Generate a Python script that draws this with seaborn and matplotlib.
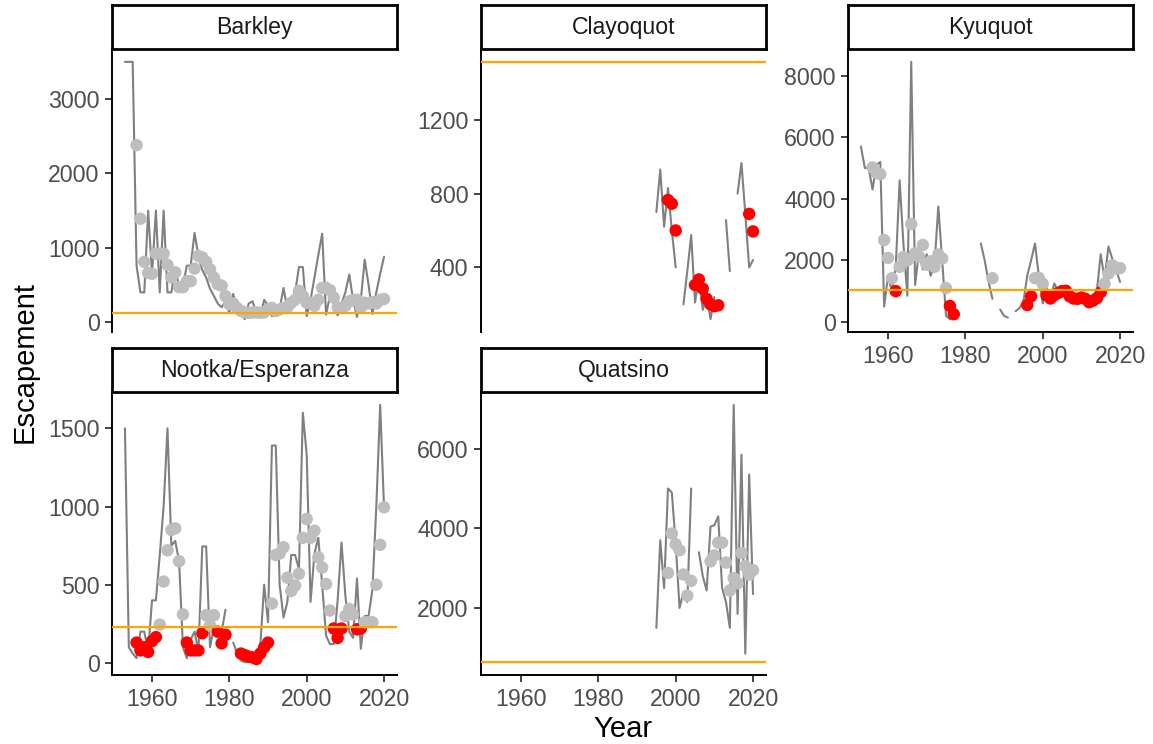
import numpy as np
import pandas as pd
import matplotlib
matplotlib.use("Agg")
import matplotlib.pyplot as plt
import seaborn as sns

# escapement series per area (gaps = missing years)
barkley_years = list(range(1953, 2021))
barkley_esc = [3500, 3500, 3500, 760, 400, 400, 1500, 650, 1500, 400,
               1500, 400, 400, 730, 480, 490, 760, 760, 1200, 890,
               700, 600, 450, 350, 250, 200, 280, 120, 380, 150,
               120, 40, 250, 280, 100, 80, 300, 220, 80, 100,
               180, 460, 170, 300, 400, 740, 740, 80, 300, 600,
               900, 1190, 100, 350, 250, 90, 250, 400, 640, 300,
               70, 300, 840, 500, 110, 400, 650, 880]
barkley_pt_years = list(range(1956, 2021))
barkley_pt = [2380, 1390, 810, 660, 650, 920, 920, 920, 770, 600,
              670, 470, 470, 550, 550, 720, 890, 870, 810, 710,
              600, 510, 490, 350, 240, 250, 190, 150, 130, 125,
              130, 130, 125, 130, 170, 190, 150, 170, 190, 200,
              260, 300, 420, 350, 260, 260, 220, 300, 460, 460,
              430, 330, 200, 190, 220, 280, 300, 300, 200, 260,
              250, 270, 250, 300, 310]

clayoquot_years = list(range(1995, 2021))
clayoquot_esc = [700, 930, 620, 830, 600, 400, np.nan, 200, 380, 575,
                 210, 350, 170, 250, 120, 240, np.nan, np.nan, 657, 380,
                 np.nan, 800, 965, 690, 400, 440]
clayoquot_pt_years = [1998, 1999, 2000, 2005, 2006, 2007, 2008, 2009, 2010, 2011, 2019, 2020]
clayoquot_pt = [765, 745, 600, 305, 335, 285, 230, 200, 190, 195, 690, 595]

kyuquot_years = list(range(1953, 2021))
kyuquot_esc = [5700, 5000, 5000, 4300, 5100, 5200, 500, 1500, 1000, 1800,
               4600, 2500, 850, 8450, 1200, 2300, 1700, 2200, 1500, 1800,
               3750, 2000, 200, 90, np.nan, np.nan, np.nan, np.nan, np.nan, np.nan,
               np.nan, 2550, 2000, 1300, 750, np.nan, 400, 200, 140, np.nan,
               350, 450, 650, 1500, 2000, 2550, 1500, 600, 1100, 800,
               1250, 1000, 900, 1100, 900, 800, 850, 700, 900, 700,
               800, 1000, 2200, 1400, 2450, 2050, 1700, 1300]
kyuquot_pt_years = (list(range(1956, 1978)) + [1987] + list(range(1996, 2021)))
kyuquot_pt = [5020, 4850, 4800, 2660, 2080, 1420, 1000, 1790, 2110, 2000,
              3180, 2230, 2120, 2500, 1860, 1970, 1790, 2190, 2060, 1100,
              520, 250,
              1420,
              550, 830, 1420, 1430, 1240, 860, 760, 870, 940, 1000,
              1010, 830, 760, 750, 790, 750, 640, 690, 770, 960,
              1240, 1570, 1840, 1730, 1750]

nootka_years = list(range(1953, 2021))
nootka_esc = [1500, 100, 60, 30, 200, 200, 75, 400, 400, 690,
              1000, 1500, 750, 780, 650, 100, 30, 150, 200, 75,
              745, 745, 100, 230, 200, 200, 340, np.nan, 130, 60,
              15, 5, 10, 20, 30, 110, 500, 260, 1390, 1390,
              500, 290, 390, 690, 690, 600, 1600, 1330, 390, 700,
              800, 500, 175, 120, 120, 400, 770, 430, 200, 160,
              540, 90, 300, 300, 470, 1000, 1650, 990]
nootka_pt_years = list(range(1956, 1980)) + list(range(1983, 2021))
nootka_pt = [130, 80, 100, 70, 140, 165, 245, 520, 720, 850,
             860, 650, 310, 130, 80, 80, 80, 190, 305, 240,
             305, 200, 125, 180,
             60, 50, 40, 35, 25, 60, 100, 130, 380, 690,
             700, 740, 545, 460, 495, 570, 800, 920, 800, 845,
             675, 610, 505, 335, 220, 160, 220, 300, 345, 310,
             215, 220, 260, 260, 260, 500, 755, 995]

quatsino_years = list(range(1995, 2021))
quatsino_esc = [1500, 3700, 2500, 5000, 4900, 3600, 2000, 2400, 2150, 5000,
                np.nan, 3400, 2800, 2440, 4040, 4080, 4300, 2500, 2150, 1500,
                7100, 1850, 5850, 850, 5350, 2350]
quatsino_pt_years = list(range(1998, 2005)) + list(range(2009, 2021))
quatsino_pt = [2880, 3870, 3600, 3450, 2840, 2310, 2680,
               3170, 3320, 3640, 3640, 3140, 2440, 2750, 2620, 3380, 3050, 2840, 2950]

areas = ["Barkley", "Clayoquot", "Kyuquot", "Nootka/Esperanza", "Quatsino"]
benchmarks = [120, 1513, 1035, 230, 640]
y_ticks = [[0, 1000, 2000, 3000], [400, 800, 1200], [0, 2000, 4000, 6000, 8000],
           [0, 500, 1000, 1500], [2000, 4000, 6000]]
x_ticks = [1960, 1980, 2000, 2020]

series = [
    (barkley_years, barkley_esc, barkley_pt_years, barkley_pt),
    (clayoquot_years, clayoquot_esc, clayoquot_pt_years, clayoquot_pt),
    (kyuquot_years, kyuquot_esc, kyuquot_pt_years, kyuquot_pt),
    (nootka_years, nootka_esc, nootka_pt_years, nootka_pt),
    (quatsino_years, quatsino_esc, quatsino_pt_years, quatsino_pt),
]

sns.set_style("white")
plt.rcParams['font.family'] = ['Liberation Sans', 'DejaVu Sans']

W, H = 1153, 744
fig = plt.figure(figsize=(W / 100, H / 100), dpi=100)

# facet layout in pixels (left, top) for each panel
col_left = [112, 481, 848]
row_top = [49, 392]
panel_w, panel_h, strip_h = 285, 283, 44
slots = [(0, 0), (0, 1), (0, 2), (1, 0), (1, 1)]
show_x = [False, False, True, True, True]

x_lo, x_hi = 1953 - 0.05 * 67, 2020 + 0.05 * 67

for i, area in enumerate(areas):
    r, c = slots[i]
    left = col_left[c] / W
    bottom = 1 - (row_top[r] + panel_h) / H
    ax = fig.add_axes([left, bottom, panel_w / W, panel_h / H])

    yrs, esc, pyrs, pts = series[i]
    line_df = pd.DataFrame({"Year": yrs, "Escapement": esc})
    line_df["seg"] = line_df["Escapement"].isna().cumsum()
    line_df = line_df.dropna()
    sns.lineplot(data=line_df, x="Year", y="Escapement", units="seg", estimator=None,
                 color="#808080", lw=1.5, ax=ax)

    pt_df = pd.DataFrame({"Year": pyrs, "Escapement": pts})
    pt_df["below"] = pt_df["Escapement"] < benchmarks[i]
    sns.scatterplot(data=pt_df, x="Year", y="Escapement", hue="below",
                    palette={True: "red", False: "#BEBEBE"}, s=80, linewidth=0,
                    legend=False, ax=ax, zorder=3)
    ax.axhline(benchmarks[i], color="orange", lw=1.6, zorder=4)

    allv = np.concatenate([line_df["Escapement"].values, pt_df["Escapement"].values,
                           [benchmarks[i]]])
    lo, hi = allv.min(), allv.max()
    pad = 0.05 * (hi - lo)
    ax.set_ylim(lo - pad, hi + pad)
    ax.set_xlim(x_lo, x_hi)
    ax.set_yticks(y_ticks[i])
    ax.set_xticks(x_ticks)
    ax.set_xlabel("")
    ax.set_ylabel("")

    for s in ["top", "right"]:
        ax.spines[s].set_visible(False)
    for s in ["left", "bottom"]:
        ax.spines[s].set_color("black")
        ax.spines[s].set_linewidth(1.4)
    ax.tick_params(axis="both", length=5, width=1.3, color="#333333",
                   labelcolor="#4D4D4D", labelsize=16.7, pad=4, left=True, bottom=True)
    if not show_x[i]:
        ax.spines["bottom"].set_visible(False)
        ax.tick_params(axis="x", bottom=False, labelbottom=False)

    # facet strip
    sax = fig.add_axes([left, 1 - row_top[r] / H, panel_w / W, strip_h / H])
    sax.set_xticks([])
    sax.set_yticks([])
    sax.set_facecolor("white")
    for s in sax.spines.values():
        s.set_visible(True)
        s.set_color("black")
        s.set_linewidth(2)
    sax.text(0.5, 0.48, area, ha="center", va="center", fontsize=16.6, color="#1A1A1A",
             transform=sax.transAxes)

fig.text(25 / W, 1 - 362 / H, "Escapement", rotation=90, ha="center", va="center",
         fontsize=21, color="black")
fig.text(623 / W, 1 - 729 / H, "Year", ha="center", va="center", fontsize=21, color="black")

fig.savefig("out.png", dpi=100, facecolor="white")
